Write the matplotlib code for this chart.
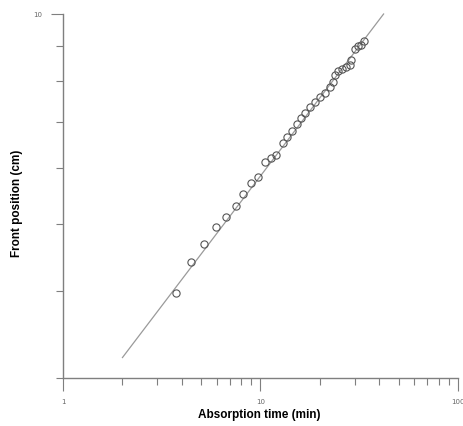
import matplotlib
matplotlib.use("Agg")
import matplotlib.pyplot as plt
from matplotlib.ticker import LogLocator, NullFormatter, FixedLocator, FixedFormatter

# Data (absorption time in min, front position in cm)
time_min = [3.73, 4.45, 5.18, 5.95, 6.69, 7.51, 8.15, 8.95, 9.71, 10.5,
            11.3, 12.0, 13.0, 13.6, 14.4, 15.3, 16.0, 16.8, 17.8, 18.9,
            20.0, 21.2, 22.5, 23.3, 23.8, 24.7, 25.9, 27.1, 28.4, 28.7,
            30.1, 31.2, 32.3, 33.4]
front_cm = [3.98, 4.41, 4.68, 4.95, 5.11, 5.30, 5.51, 5.71, 5.83, 6.12,
            6.21, 6.27, 6.52, 6.65, 6.79, 6.95, 7.09, 7.21, 7.35, 7.47,
            7.60, 7.70, 7.85, 7.98, 8.17, 8.28, 8.33, 8.39, 8.45, 8.59,
            8.91, 8.99, 9.03, 9.15]

fit_time = [2.0, 42.0]
fit_front = [3.21, 10.0]

x_major = [1, 10, 100]
x_labels = ["1", "10", "100"]
y_major = [10]
y_labels = ["10"]

fig = plt.figure(figsize=(4.64, 4.26), dpi=100)
ax = fig.add_axes([63/464, 48/426, (458-63)/464, (412-48)/426])

axis_col = "#7f7f7f"
ax.plot(fit_time, fit_front, color="#9a9a9a", lw=0.9, zorder=2, clip_on=False)
ax.plot(time_min, front_cm, linestyle="none", marker="o", ms=5.2,
        mfc="none", mec="#555555", mew=0.8, zorder=3)

ax.set_xscale("log")
ax.set_yscale("log")
ax.set_xlim(1, 100)
ax.set_ylim(3, 10)

ax.xaxis.set_major_locator(FixedLocator(x_major))
ax.xaxis.set_major_formatter(FixedFormatter(x_labels))
ax.xaxis.set_minor_locator(LogLocator(base=10, subs=range(2, 10)))
ax.xaxis.set_minor_formatter(NullFormatter())
ax.yaxis.set_major_locator(FixedLocator(y_major))
ax.yaxis.set_major_formatter(FixedFormatter(y_labels))
ax.yaxis.set_minor_locator(LogLocator(base=10, subs=range(2, 10)))
ax.yaxis.set_minor_formatter(NullFormatter())

for s in ["top", "right"]:
    ax.spines[s].set_visible(False)
for s in ["left", "bottom"]:
    ax.spines[s].set_color(axis_col)
    ax.spines[s].set_linewidth(1.0)

ax.tick_params(which="major", direction="out", length=9, width=0.8,
               color=axis_col, labelsize=5, labelcolor="#666666", pad=6)
ax.tick_params(which="minor", direction="out", length=5, width=0.8,
               color=axis_col)

font = dict(family=["Liberation Sans", "DejaVu Sans"], weight="bold", size=8.5)
ax.set_xlabel("Absorption time (min)", fontdict=font)
ax.set_ylabel("Front position (cm)", fontdict=font)
ax.xaxis.set_label_coords((259 - 63) / 395, -(409 - 378) / 364)
ax.yaxis.set_label_coords(-(63 - 23) / 395, 0.48)

fig.savefig("out.png", dpi=100)
